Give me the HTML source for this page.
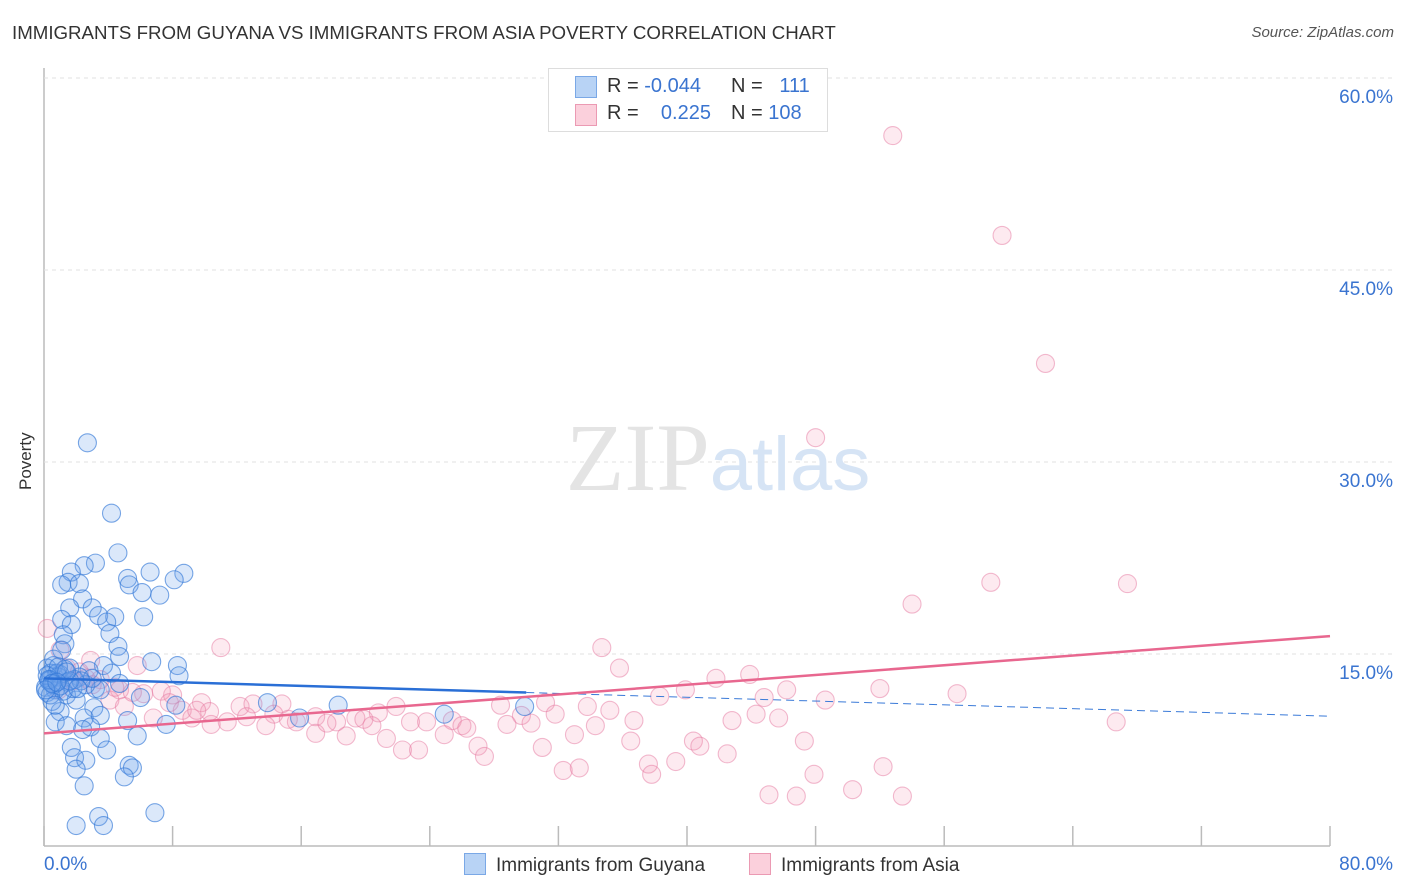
<!DOCTYPE html>
<html><head><meta charset="utf-8"><style>
body{margin:0;background:#fff;font-family:"Liberation Sans",sans-serif;}
#c{position:relative;width:1406px;height:892px;overflow:hidden}
.t{position:absolute;white-space:nowrap}
</style></head><body>
<div id="c">
<div class="t" style="left:12px;top:22px;font-size:18.7px;color:#333">IMMIGRANTS FROM GUYANA VS IMMIGRANTS FROM ASIA POVERTY CORRELATION CHART</div>
<div class="t" style="right:12px;top:24px;font-size:15px;color:#555;font-style:italic">Source: ZipAtlas.com</div>
<div class="t" style="left:16px;top:490px;font-size:17px;color:#333;transform:rotate(-90deg);transform-origin:left top">Poverty</div>
<svg id="s" width="1406" height="892" style="position:absolute;left:0;top:0"></svg>
<div class="t" style="left:548px;top:68px;width:278px;height:62px;border:1px solid #ddd;background:#fff;font-size:20px">
 <div style="position:absolute;left:26px;top:7px;width:20px;height:20px;background:#b8d3f5;border:1px solid #7aa8e6"></div>
 <div style="position:absolute;left:26px;top:35px;width:20px;height:20px;background:#fbd0dc;border:1px solid #eb9ab3"></div>
 <div class="t" style="left:58px;top:6px;color:#333">R = <span style="color:#3a74d0">-0.044</span></div>
 <div class="t" style="left:182px;top:6px;color:#333">N = <span style="color:#3a74d0">&nbsp;&nbsp;111</span></div>
 <div class="t" style="left:58px;top:33px;color:#333">R = <span style="color:#3a74d0">&nbsp;&nbsp;&nbsp;0.225</span></div>
 <div class="t" style="left:182px;top:33px;color:#333">N = <span style="color:#3a74d0">108</span></div>
</div>
<div class="t" style="left:464px;top:853px;font-size:19px;color:#333"><span style="display:inline-block;width:20px;height:20px;background:#b8d3f5;border:1px solid #7aa8e6;vertical-align:-4px;margin-right:10px"></span>Immigrants from Guyana</div>
<div class="t" style="left:749px;top:853px;font-size:19px;color:#333"><span style="display:inline-block;width:20px;height:20px;background:#fbd0dc;border:1px solid #eb9ab3;vertical-align:-4px;margin-right:10px"></span>Immigrants from Asia</div>
</div>
<script>
const yTicks=[15,30,45,60];
const yTickLabels=["15.0%","30.0%","45.0%","60.0%"];
const xTicks=[0,8,16,24,32,40,48,56,64,72,80];
const xEndLabels=["0.0%","80.0%"];
const guyX=[2.7,4.2,4.6,3.2,2.5,6.6,8.7,1.7,5.2,8.1,1.5,1.1,2.2,5.3,6.1,7.2,2.4,3.0,1.6,3.4,6.2,4.4,1.1,1.7,3.9,4.1,1.2,1.3,4.6,4.7,6.7,8.3,3.7,0.6,1.6,2.8,4.2,8.4,1.0,2.2,0.4,4.7,3.2,3.5,0.7,1.4,2.0,6.0,8.2,3.1,1.0,2.5,3.5,5.2,0.7,1.4,2.9,7.6,5.8,2.4,3.5,1.7,3.9,1.9,2.6,5.3,2.0,5.5,5.0,2.5,6.9,3.4,2.0,3.7,13.9,18.3,15.9,24.9,29.9,1.1,0.2,0.4,0.5,0.6,0.9,1.5,1.8,1.9,2.6,3.0,0.1,0.2,0.5,0.3,0.8,1.2,1.3,0.6,0.2,0.4,2.3,0.9,1.0,0.3,0.7,1.6,2.1,0.5,0.1,1.4,0.8];
const guyY=[31.5,26.0,22.9,22.1,21.9,21.4,21.3,21.4,20.9,20.8,20.6,20.4,20.5,20.4,19.8,19.6,19.3,18.6,18.6,18.0,17.9,17.9,17.7,17.3,17.5,16.6,16.5,15.8,15.6,14.8,14.4,14.1,14.1,14.1,13.9,13.7,13.5,13.3,13.4,13.2,13.0,12.7,12.3,12.2,12.2,11.8,11.4,11.6,11.0,10.8,10.5,10.0,10.2,9.8,9.7,9.4,9.3,9.5,8.6,9.1,8.4,7.7,7.5,6.9,6.7,6.3,6.0,6.1,5.4,4.7,2.6,2.3,1.6,1.6,11.2,11.0,10.0,10.3,10.9,15.3,13.9,13.5,12.7,14.6,13.2,12.8,12.3,13.0,12.6,13.1,12.4,12.0,11.3,12.9,13.5,12.1,13.8,12.6,13.3,11.8,12.9,14.0,12.5,13.0,11.0,12.9,12.3,12.7,12.2,13.6,12.8];
const asiaX=[52.8,59.6,62.3,48.0,58.9,67.4,54.0,11.0,34.7,35.8,43.9,41.8,52.0,46.2,39.9,56.8,38.3,44.8,48.6,5.8,8.0,7.3,8.6,9.8,12.2,13.0,14.8,14.3,16.9,19.4,21.9,28.4,31.2,33.8,35.2,31.8,29.7,36.7,42.8,44.3,45.7,66.7,20.8,22.8,23.8,25.4,26.0,34.3,28.8,18.2,20.4,15.7,13.8,11.4,10.4,9.2,6.8,16.9,18.8,21.3,24.9,33.0,36.5,40.4,47.3,22.3,23.3,27.0,27.4,31.0,40.8,42.5,37.6,39.3,32.3,33.3,37.8,47.9,52.2,45.1,46.8,50.3,53.4,3.5,4.7,2.2,1.4,0.2,0.9,4.1,5.0,2.9,1.0,10.3,3.0,2.6,1.8,6.2,4.4,5.5,7.8,9.5,12.6,15.2,17.6,26.3,30.3,19.9];
const asiaY=[55.5,47.7,37.7,31.9,20.6,20.5,18.9,15.5,15.5,13.9,13.4,13.1,12.3,12.2,12.2,11.9,11.7,11.6,11.4,14.1,11.8,12.1,10.6,11.2,10.9,11.1,11.1,10.3,10.1,10.0,10.9,11.0,11.2,10.9,10.6,10.3,10.2,9.8,9.8,10.3,10.0,9.7,10.4,9.7,9.7,9.8,9.4,9.4,9.5,9.7,9.4,9.7,9.4,9.7,9.5,10.0,10.0,8.8,8.6,8.4,8.7,8.7,8.2,8.2,8.2,7.5,7.5,7.8,7.0,7.7,7.8,7.2,6.4,6.6,5.9,6.1,5.6,5.6,6.2,4.0,3.9,4.4,3.9,13.0,12.2,13.6,13.9,17.0,12.2,11.4,10.9,14.5,15.3,10.5,12.6,13.1,12.9,11.9,12.4,12.0,11.2,10.6,10.1,9.9,9.6,9.2,9.6,9.9];
const guyTrend=[13.1,-0.037];
const asiaTrend=[8.8,0.095];
const sx=v=>44+v/80*1286, sy=v=>846-v*12.8;
const s=document.getElementById('s');const NS='http://www.w3.org/2000/svg';
function mk(t,a){const e=document.createElementNS(NS,t);for(const k in a)e.setAttribute(k,a[k]);s.appendChild(e);return e;}
let e=mk('line',{x1:44,y1:68,x2:44,y2:846,stroke:'#bbb','stroke-width':1.5});


e=mk('line',{x1:44,y1:846,x2:1330,y2:846,stroke:'#bbb','stroke-width':1.5});


yTicks.forEach((v,i)=>{
 e=mk('line',{x1:44,y1:sy(v),x2:1395,y2:sy(v),stroke:'#e2e2e2','stroke-dasharray':'4,4'});
 
 
 e=mk('text',{x:1393,y:sy(v)+25,'text-anchor':'end','font-size':19,fill:'#3a74d0','font-family':'Liberation Sans'});
 e.textContent=yTickLabels[i];
 
 
});
xTicks.forEach(v=>{
 e=mk('line',{x1:sx(v),y1:826,x2:sx(v),y2:846,stroke:'#bbb','stroke-width':1.5});
 
 
});
[[0,'start',44],[80,'end',1393]].forEach((p,i)=>{
 e=mk('text',{x:p[2],y:870,'text-anchor':p[1],'font-size':19,fill:'#3a74d0','font-family':'Liberation Sans'});
 e.textContent=xEndLabels[i];
 
 
});
e=mk('text',{x:718,y:490,'text-anchor':'middle','font-size':96,fill:'#e4e4e4','font-family':'Liberation Serif'});
e.innerHTML='ZIP<tspan fill="#d6e4f5" font-family="Liberation Sans" font-size="76">atlas</tspan>';


asiaX.forEach((x,i)=>{
 e=mk('circle',{cx:sx(x),cy:sy(asiaY[i]),r:9,fill:'rgba(245,150,180,0.2)',stroke:'rgba(230,120,160,0.5)','stroke-width':1.1});
 
 
});
guyX.forEach((x,i)=>{
 e=mk('circle',{cx:sx(x),cy:sy(guyY[i]),r:9,fill:'rgba(110,165,235,0.25)',stroke:'rgba(50,120,215,0.65)','stroke-width':1.1});
 
 
});
const gy=x=>guyTrend[0]+guyTrend[1]*x, ay=x=>asiaTrend[0]+asiaTrend[1]*x;
e=mk('line',{x1:sx(30),y1:sy(gy(30)),x2:sx(80),y2:sy(gy(80)),stroke:'#3a7ad8','stroke-width':1,'stroke-dasharray':'8,5'});


e=mk('line',{x1:sx(0),y1:sy(gy(0)),x2:sx(30),y2:sy(gy(30)),stroke:'#2a6fd6','stroke-width':2.5});


e=mk('line',{x1:sx(0),y1:sy(ay(0)),x2:sx(80),y2:sy(ay(80)),stroke:'#e8678f','stroke-width':2.5});


</script>
</body></html>
